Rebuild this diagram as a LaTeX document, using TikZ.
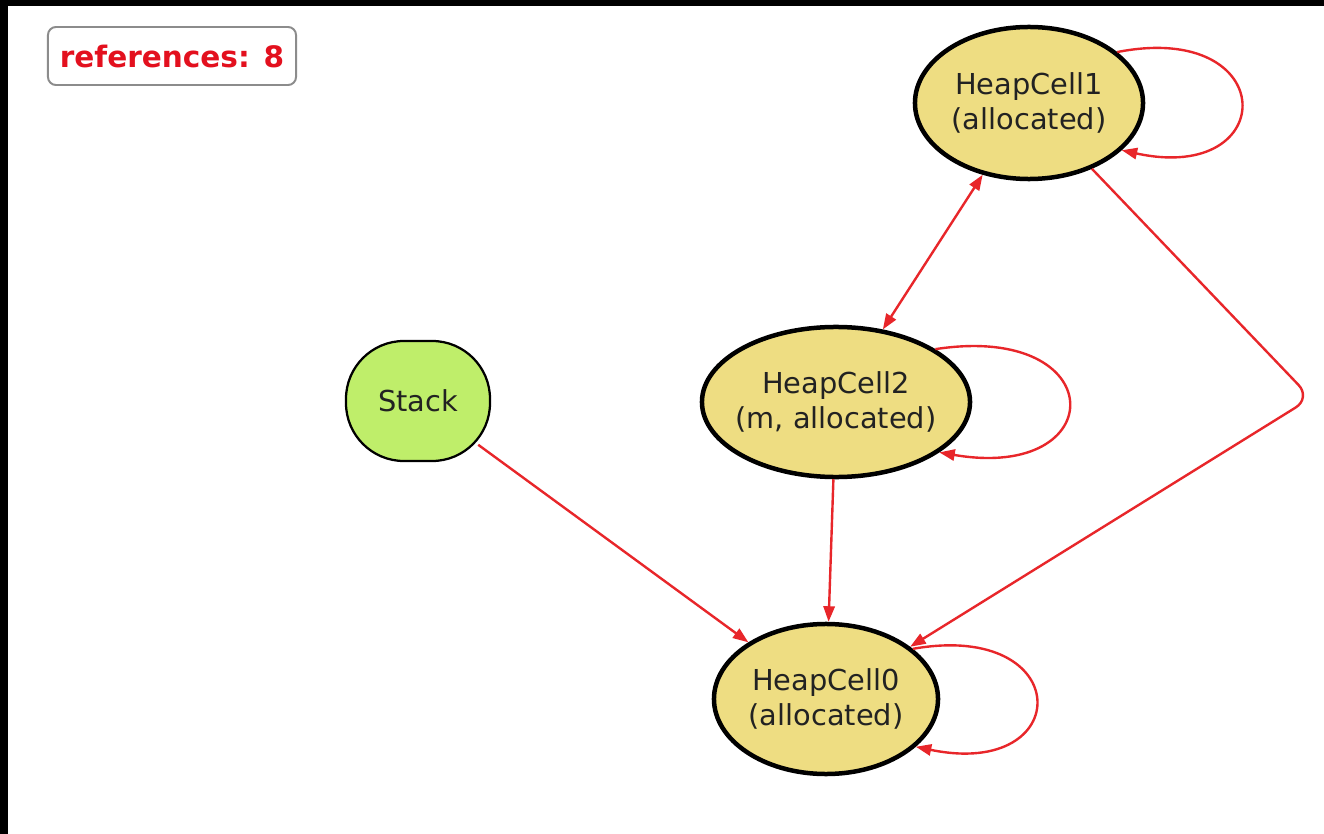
\documentclass[tikz,border=0pt]{standalone}
\usepackage{fontspec}
\setmainfont{DejaVu Sans}
\usetikzlibrary{shapes.geometric}
\usetikzlibrary{arrows.meta}

\definecolor{heapfill}{HTML}{EEDD82}
\definecolor{stackfill}{HTML}{BFEE6A}
\definecolor{linkred}{HTML}{E8262A}
\definecolor{refred}{HTML}{E3101E}
\definecolor{boxgray}{HTML}{8C8C8C}
\definecolor{inkgray}{HTML}{222222}

\begin{document}
\begin{tikzpicture}[x=0.025cm, y=-0.025cm]

% Define styles for different elements
\tikzstyle{heap} = [ellipse, draw=black, line width=3.2pt, fill=heapfill, inner sep=0pt]
\tikzstyle{stackbox} = [rectangle, rounded corners=1.45cm, draw=black, line width=1.6pt, fill=stackfill, minimum width=3.6cm, minimum height=3cm]
\tikzstyle{celltext} = [align=center, text=inkgray, font=\fontsize{20.5}{25}\selectfont]
\tikzstyle{counter} = [rectangle, rounded corners=0.2cm, draw=boxgray, line width=1.4pt, fill=white, minimum width=6.2cm, minimum height=1.45cm, text=refred, font=\fontsize{21}{25}\selectfont\bfseries]
\tikzstyle{arrow} = [linkred, line width=1.7pt, -{Triangle[length=11pt,width=8pt]}]
\tikzstyle{twoway} = [arrow, {Triangle[length=11pt,width=8pt]}-{Triangle[length=11pt,width=8pt]}]

% Page with the dark frame strips
\useasboundingbox (0,0) rectangle (1324,834);
\fill[white] (0,0) rectangle (1324,834);
\fill[black] (0,0) rectangle (8,834);
\fill[black] (0,0) rectangle (1324,6);

% Draw the nodes
\node (refs) [counter] at (172,56) {references: 8};
\node (stack) [stackbox, celltext] at (418,401) {Stack};
\node (c1) [heap, minimum width=5.7cm, minimum height=3.8cm, label={[celltext]center:{HeapCell1\\(allocated)}}] at (1029,103) {};
\node (c2) [heap, minimum width=6.7cm, minimum height=3.75cm, label={[celltext]center:{HeapCell2\\(m, allocated)}}] at (836,402) {};
\node (c0) [heap, minimum width=5.6cm, minimum height=3.75cm, label={[celltext]center:{HeapCell0\\(allocated)}}] at (826,699) {};

% Draw the arrows
\draw [twoway] (c1) -- (c2);
\draw [arrow] (c2) -- (c0);
\draw [arrow, shorten <=-0.4cm] (stack) -- (c0);
\draw [arrow, rounded corners=0.45cm] (c1) -- (1311,398) -- (c0);

% Self references
\draw [arrow] (c1.30) .. controls (1281,20) and (1281,185) .. (c1.-27);
\draw [arrow] (c2.28) .. controls (1112,322) and (1112,482) .. (c2.-26);
\draw [arrow] (c0.30) .. controls (1076,620) and (1076,780) .. (c0.-28);
\end{tikzpicture}
\end{document}
